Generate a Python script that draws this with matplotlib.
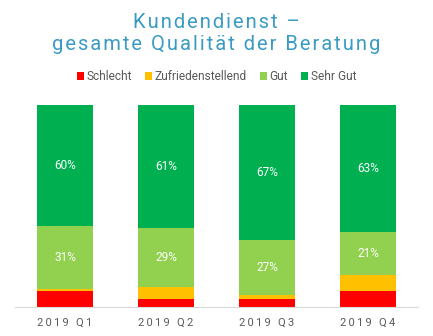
import matplotlib.pyplot as plt
from matplotlib.patches import Patch

# Kundendienst - Qualität der Beratung, Anteile in %
quarters = ["2019 Q1", "2019 Q2", "2019 Q3", "2019 Q4"]
schlecht = [8, 4, 4, 8]
zufrieden = [1, 6, 2, 8]
gut = [31, 29, 27, 21]
sehr_gut = [60, 61, 67, 63]

series = [
    ("Schlecht", schlecht, "#FF0000"),
    ("Zufriedenstellend", zufrieden, "#FFC000"),
    ("Gut", gut, "#92D050"),
    ("Sehr Gut", sehr_gut, "#00B050"),
]
labelled = {"Gut", "Sehr Gut"}

plt.rcParams["font.family"] = ["Roboto", "DejaVu Sans"]


def spaced(s, sep="\u200a"):
    # imitate the wide letter spacing of the original
    return sep.join(s)


fig = plt.figure(figsize=(4.33, 3.36), dpi=100)
ax = fig.add_axes([0.0335, 0.0863, 0.933, 0.6012])

x = list(range(len(quarters)))
bottom = [0] * len(quarters)
for name, vals, color in series:
    ax.bar(x, vals, width=0.555, bottom=bottom, color=color, linewidth=0)
    if name in labelled:
        for i, v in enumerate(vals):
            ax.text(x[i], bottom[i] + v / 2, f"{v}%", ha="center", va="center",
                    color="white", fontsize=8.5)
    bottom = [b + v for b, v in zip(bottom, vals)]

ax.set_xlim(-0.5, len(quarters) - 0.5)
ax.set_ylim(0, 100)
ax.set_yticks([])
ax.set_xticks(x)
ax.set_xticklabels([spaced(q, "\u2009") for q in quarters], color="#595959", fontsize=8)
ax.tick_params(axis="x", length=0, pad=8)
for side in ["top", "right", "left"]:
    ax.spines[side].set_visible(False)
ax.spines["bottom"].set_color("#D9D9D9")

title_kw = dict(ha="center", va="center", color="#3A9BC2", fontsize=14.5)
fig.text(0.5, 1 - 22 / 336, spaced("Kundendienst \u2013"), **title_kw)
fig.text(0.5, 1 - 45 / 336, spaced("gesamte Qualit\u00e4t der Beratung"), **title_kw)

handles = [Patch(facecolor=c, label=n) for n, _, c in series]
fig.legend(handles=handles, loc="center", bbox_to_anchor=(0.5, 1 - 77 / 336), ncol=4,
           frameon=False, fontsize=8.6, handlelength=0.6, handleheight=0.6,
           handletextpad=0.25, columnspacing=1.05, labelcolor="#595959")

fig.savefig("out.png", dpi=100)
